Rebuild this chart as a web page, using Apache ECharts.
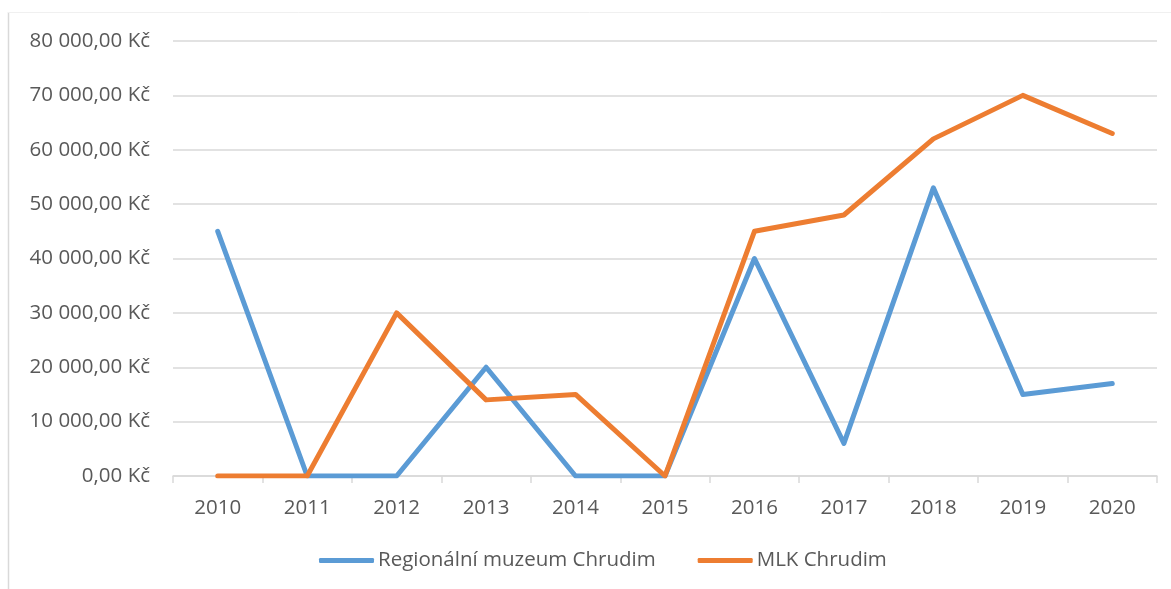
<!DOCTYPE html>
<html>
<head>
<meta charset="utf-8">
<script src="https://cdn.jsdelivr.net/npm/echarts@6/dist/echarts.min.js"></script>
<style>
  html, body { margin: 0; padding: 0; background: #fff; }
  #chart { width: 1171px; height: 589px; }
</style>
</head>
<body>
<div id="chart"></div>
<script>
// Roky (kategorie osy X)
const years = ['2010', '2011', '2012', '2013', '2014', '2015', '2016', '2017', '2018', '2019', '2020'];

// Částky v Kč za jednotlivé roky
const muzeumChrudim = [45000, 0, 0, 20000, 0, 0, 40000, 6000, 53000, 15000, 17000];
const mlkChrudim = [0, 0, 30000, 14000, 15000, 0, 45000, 48000, 62000, 70000, 63000];

const seriesNames = ['Regionální muzeum Chrudim', 'MLK Chrudim'];
const seriesColors = ['#5B9BD5', '#ED7D31'];

// Hodnota ve formátu "80 000,00 Kč"
function formatKc(v) {
  const whole = Math.round(v).toString().replace(/\B(?=(\d{3})+(?!\d))/g, ' ');
  return whole + ',00 Kč';
}

const FONT = 'Open Sans';
const TEXT = '#595959';

const chart = echarts.init(document.getElementById('chart'), null, { renderer: 'canvas' });

function lineSeries(name, data, color) {
  return {
    name: name,
    type: 'line',
    data: data,
    symbol: 'none',
    smooth: false,
    color: color,
    lineStyle: { width: 5, color: color, cap: 'round', join: 'round' },
    emphasis: { disabled: true }
  };
}

chart.setOption({
  animation: false,
  backgroundColor: '#fff',
  graphic: [
    // rámeček oblasti grafu
    { type: 'line', shape: { x1: 8.5, y1: 12, x2: 8.5, y2: 589 }, style: { stroke: '#d9d9d9', lineWidth: 1.5 } },
    { type: 'line', shape: { x1: 8, y1: 12.5, x2: 1171, y2: 12.5 }, style: { stroke: '#f0f0f0', lineWidth: 1 } }
  ],
  grid: { left: 173, right: 14, top: 41, bottom: 113, containLabel: false },
  legend: {
    left: 314,
    top: 545,
    itemGap: 42,
    itemWidth: 55,
    itemHeight: 5,
    icon: 'roundRect',
    textStyle: { fontFamily: FONT, fontSize: 20.5, color: TEXT, padding: [0, 0, 0, -1] },
    data: seriesNames
  },
  xAxis: {
    type: 'category',
    data: years,
    boundaryGap: true,
    axisLine: { show: true, lineStyle: { color: '#d9d9d9', width: 1.5 } },
    axisTick: { show: true, length: 7, lineStyle: { color: '#d9d9d9', width: 1.5 } },
    axisLabel: { fontFamily: FONT, fontSize: 20.5, color: TEXT, margin: 22 }
  },
  yAxis: {
    type: 'value',
    min: 0,
    max: 80000,
    interval: 10000,
    axisLine: { show: false },
    axisTick: { show: false },
    splitLine: { show: true, lineStyle: { color: '#d9d9d9', width: 1.5 } },
    axisLabel: { fontFamily: FONT, fontSize: 20.5, color: TEXT, margin: 23, formatter: formatKc }
  },
  series: [
    lineSeries(seriesNames[0], muzeumChrudim, seriesColors[0]),
    lineSeries(seriesNames[1], mlkChrudim, seriesColors[1])
  ]
});
</script>
</body>
</html>
